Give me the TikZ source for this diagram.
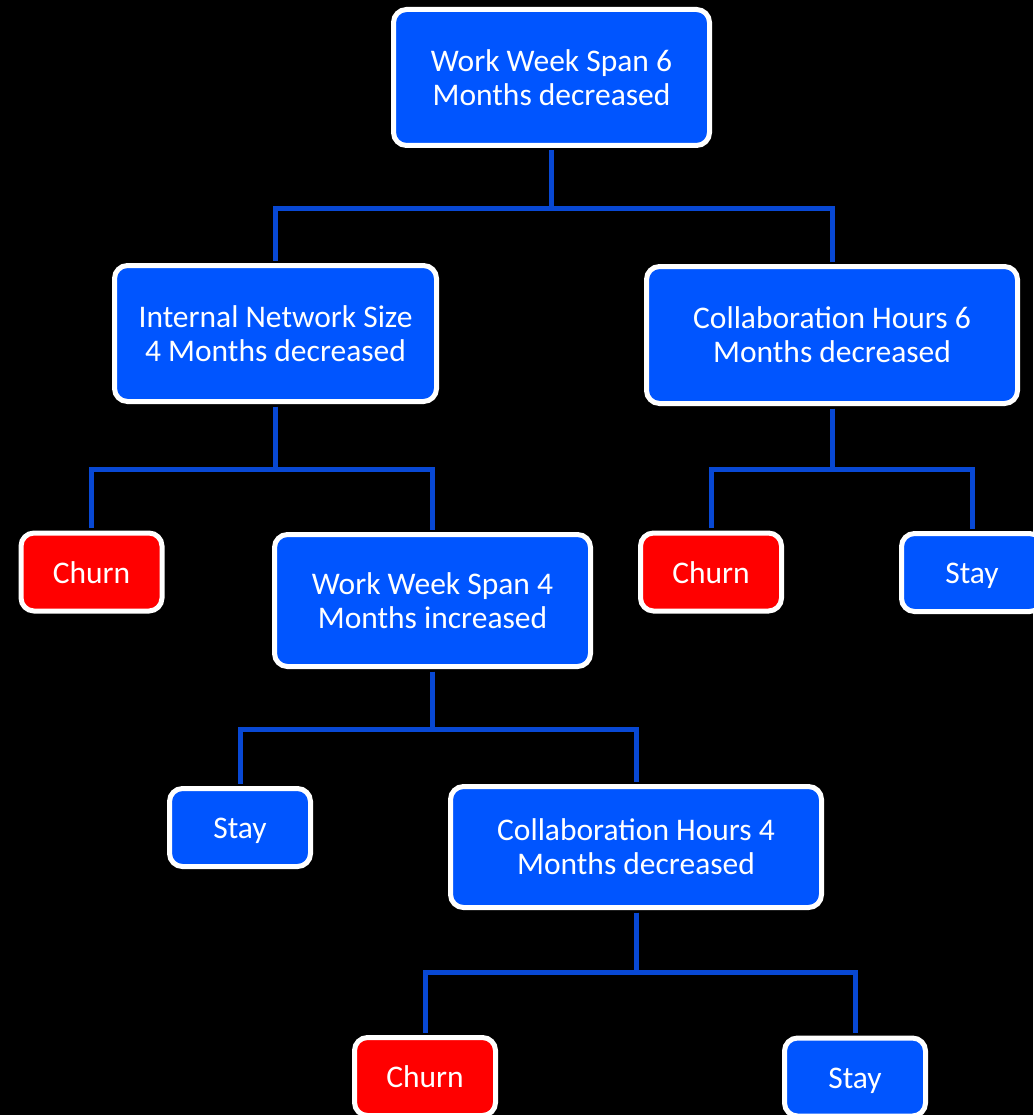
\documentclass[tikz,border=0pt]{standalone}
\usepackage{fontspec}
\setmainfont{Carlito}
\usetikzlibrary{positioning}

\definecolor{boxblue}{RGB}{0,85,255}
\definecolor{linkblue}{RGB}{8,72,212}
\definecolor{churnred}{RGB}{255,0,0}

\begin{document}
\begin{tikzpicture}[x=1pt, y=-1pt]
    \tikzstyle{split} = [rectangle, rounded corners=13pt, draw=white, fill=boxblue, line width=5pt, text=white, align=center, font=\fontsize{31.5}{34}\selectfont]
    \tikzstyle{stay} = [split, minimum width=141pt, minimum height=78pt, text height=25pt, text depth=3pt]
    \tikzstyle{churn} = [stay, fill=churnred]
    \tikzstyle{link} = [line width=5pt, draw=linkblue, shorten <=2.5pt, shorten >=2.5pt]

    \fill [black] (0,0) rectangle (1033,1115);
    \useasboundingbox (0,0) rectangle (1033,1115);

    \node [split, minimum width=316pt, minimum height=136pt] (root) at (551.5,77.5) {Work Week Span 6\\Months decreased};
    \node [split, minimum width=322pt, minimum height=136pt] (netsize) at (275.5,333.5) {Internal Network Size\\4 Months decreased};
    \node [split, minimum width=371pt, minimum height=137pt] (collab6) at (832,335) {Collaboration Hours 6\\Months decreased};
    \node [churn] (churn1) at (91.5,572) {Churn};
    \node [split, minimum width=316pt, minimum height=132pt] (week4) at (432.5,600.5) {Work Week Span 4\\Months increased};
    \node [churn] (churn2) at (711,572) {Churn};
    \node [stay] (stay1) at (972,572.5) {Stay};
    \node [stay] (stay2) at (240,827.5) {Stay};
    \node [split, minimum width=371pt, minimum height=121pt] (collab4) at (636,847) {Collaboration Hours 4\\Months decreased};
    \node [churn] (churn3) at (425,1076.5) {Churn};
    \node [stay] (stay3) at (855,1077) {Stay};

    \draw [link] (root.south) -- ++(0,60.5) -| (netsize.north);
    \draw [link] (root.south) -- ++(0,60.5) -| (collab6.north);
    \draw [link] (netsize.south) -- ++(0,65.5) -| (churn1.north);
    \draw [link] (netsize.south) -- ++(0,65.5) -| (week4.north);
    \draw [link] (collab6.south) -- ++(0,63.5) -| (churn2.north);
    \draw [link] (collab6.south) -- ++(0,63.5) -| (stay1.north);
    \draw [link] (week4.south) -- ++(0,60.5) -| (stay2.north);
    \draw [link] (week4.south) -- ++(0,60.5) -| (collab4.north);
    \draw [link] (collab4.south) -- ++(0,62.5) -| (churn3.north);
    \draw [link] (collab4.south) -- ++(0,62.5) -| (stay3.north);
\end{tikzpicture}
\end{document}
